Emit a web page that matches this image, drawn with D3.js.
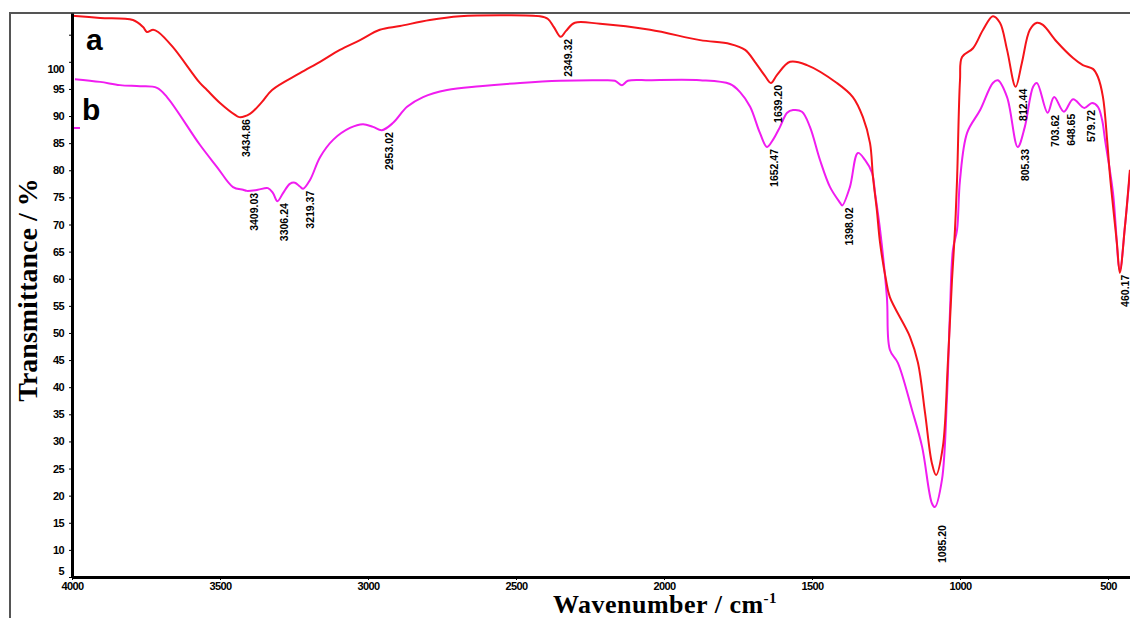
<!DOCTYPE html>
<html>
<head>
<meta charset="utf-8">
<script src="https://cdn.jsdelivr.net/npm/d3@7"></script>
<style>
    body {margin: 0; background: #fff}
    svg {display: block}
    .axis text {font: bold 11px "Liberation Sans", Arial, sans-serif; fill: #000}
    .axis path, .axis line {stroke: #000}
    .peak {font: bold 10.5px "Liberation Sans", Arial, sans-serif; fill: #000}
    .title {font-family: "Liberation Serif", "Times New Roman", serif; font-weight: bold; fill: #000}
    .tag {font: bold 30px "Liberation Sans", Arial, sans-serif; fill: #000}
</style>
</head>
<body>
<svg id="chart" width="1130" height="618"></svg>
<script>
// spectrum a (red)
const waveA = [4000, 3905, 3794, 3760, 3747, 3726, 3709, 3659, 3568, 3544,
    3500, 3449, 3435, 3399, 3358, 3324, 3230, 3162, 3095, 3027,
    2960, 2892, 2791, 2689, 2554, 2419, 2392, 2372, 2349, 2331,
    2301, 2216, 2047, 1878, 1777, 1726, 1693, 1659, 1639, 1618,
    1574, 1517, 1416, 1362, 1328, 1304, 1294, 1281, 1270, 1250,
    1237, 1169, 1142, 1118, 1095, 1081, 1058, 1041, 1027, 1017,
    1010, 1000, 993, 956, 922, 889, 865, 841, 812, 791,
    764, 740, 720, 673, 618, 585, 551, 534, 517, 503,
    493, 470, 460, 443, 426]
const transA = [108.5, 108.1, 107.7, 106.4, 105.5, 105.9, 105.5, 102.7, 96.1, 94.8,
    92.4, 90.2, 89.8, 90.4, 92.6, 94.8, 97.9, 100.0, 102.2, 104.0,
    105.9, 106.6, 107.7, 108.4, 108.6, 108.4, 107.9, 106.4, 104.6, 105.7,
    107.2, 107.0, 105.9, 104.0, 103.3, 102.2, 100.0, 97.4, 96.1, 97.6,
    100.0, 99.4, 96.1, 93.5, 89.8, 85.0, 78.8, 72.7, 66.6, 59.8,
    56.6, 49.3, 44.5, 35.2, 26.0, 23.8, 29.0, 44.5, 59.8, 69.0,
    78.2, 96.6, 100.9, 102.5, 105.9, 108.4, 107.2, 102.2, 95.4, 99.8,
    105.9, 107.2, 106.8, 103.7, 100.7, 99.4, 98.7, 97.2, 93.5, 85.6,
    78.8, 66.6, 61.1, 69.5, 80.1]

// spectrum b (magenta)
const waveB = [3990, 3905, 3838, 3770, 3713, 3679, 3568, 3510, 3456, 3422,
    3409, 3372, 3338, 3321, 3306, 3287, 3264, 3247, 3230, 3219,
    3196, 3162, 3118, 3061, 3017, 2983, 2953, 2916, 2868, 2814,
    2733, 2622, 2486, 2351, 2216, 2166, 2142, 2122, 2047, 1878,
    1777, 1743, 1709, 1676, 1652, 1632, 1608, 1584, 1564, 1534,
    1507, 1473, 1439, 1405, 1398, 1372, 1345, 1321, 1297, 1287,
    1270, 1247, 1237, 1210, 1162, 1128, 1095, 1085, 1061, 1044,
    1034, 1024, 1010, 1000, 976, 932, 889, 872, 841, 805,
    781, 753, 740, 704, 682, 649, 618, 580, 554, 534,
    520, 510, 483, 460, 443, 426]
const transB = [96.8, 96.3, 95.7, 95.5, 95.2, 93.5, 84.7, 80.6, 76.9, 76.4,
    76.2, 76.4, 76.7, 75.8, 74.3, 75.8, 77.5, 77.7, 77.0, 76.6,
    78.2, 82.4, 85.6, 87.8, 88.5, 88.0, 87.4, 88.7, 91.7, 93.5,
    94.8, 95.5, 96.1, 96.5, 96.6, 96.5, 95.7, 96.5, 96.6, 96.6,
    95.9, 94.4, 91.7, 86.9, 84.3, 85.6, 88.0, 90.6, 91.1, 90.8,
    88.0, 81.9, 76.9, 74.0, 73.5, 76.9, 83.2, 81.9, 79.5, 75.8,
    69.0, 56.6, 46.9, 44.5, 35.8, 29.0, 18.6, 17.9, 22.9, 38.2,
    53.7, 65.3, 69.0, 78.2, 86.9, 91.1, 96.1, 96.6, 93.5, 84.3,
    88.0, 95.4, 96.1, 90.6, 93.5, 90.8, 93.1, 91.5, 92.4, 91.7,
    89.3, 85.6, 75.8, 61.6, 69.5, 79.5]

// short stray piece of b at the left edge
const waveStub = [4000, 3973]
const transStub = [87.8, 87.8]

// peak annotations
const peakTextA = ['3434.86', '2349.32', '1639.20', '812.44', '460.17']
const peakWaveA = [3434.86, 2349.32, 1639.20, 812.44, 460.17]
const peakTransA = [89.8, 104.6, 96.1, 95.4, 61.1]

const peakTextB = ['3409.03', '3306.24', '3219.37', '2953.02', '1652.47', '1398.02',
    '1085.20', '805.33', '703.62', '648.65', '579.72']
const peakWaveB = [3409.03, 3306.24, 3219.37, 2953.02, 1652.47, 1398.02,
    1085.20, 805.33, 703.62, 648.65, 579.72]
const peakTransB = [76.2, 74.3, 76.6, 87.4, 84.3, 73.5, 17.9, 84.3, 90.6, 90.8, 91.5]

const xTicks = [4000, 3500, 3000, 2500, 2000, 1500, 1000, 500]
const yTicks = d3.range(5, 106, 5)


const svg = d3.select('#chart')

const x = d3.scaleLinear()
    .domain([4000, 420])
    .range([72, 72 + 3580 * 0.296])

const y = d3.scaleLinear()
    .domain([5, 109])
    .range([577, 13])

const zip = (ws, ts) => ws.map((w, i) => ({w, t: ts[i]}))

const line = d3.line()
    .x(d => x(d.w))
    .y(d => y(d.t))
    .curve(d3.curveCatmullRom.alpha(0.5))

// outer frame
svg.append('path')
    .attr('d', 'M10,620V13H1132')
    .attr('fill', 'none')
    .attr('stroke', '#555')
    .attr('stroke-width', 2)

svg.append('clipPath')
    .attr('id', 'clip')
    .append('rect')
    .attr('x', 72).attr('y', 13)
    .attr('width', 1130 - 72).attr('height', 577 - 13)

const plot = svg.append('g')
    .attr('clip-path', 'url(#clip)')

plot.append('path')
    .datum(zip(waveStub, transStub))
    .attr('d', d3.line().x(d => x(d.w)).y(d => y(d.t)))
    .attr('fill', 'none')
    .attr('stroke', '#f01cf0')
    .attr('stroke-width', 2)

plot.append('path')
    .datum(zip(waveB, transB))
    .attr('d', line)
    .attr('fill', 'none')
    .attr('stroke', '#f01cf0')
    .attr('stroke-width', 2)

plot.append('path')
    .datum(zip(waveA, transA))
    .attr('d', line)
    .attr('fill', 'none')
    .attr('stroke', '#f5141a')
    .attr('stroke-width', 2)

// axes
const yAxis = svg.append('g')
    .attr('class', 'axis')
    .attr('transform', 'translate(72,0)')
    .call(d3.axisLeft(y)
        .tickValues(yTicks)
        .tickSize(3)
        .tickSizeOuter(0)
        .tickPadding(5)
        .tickFormat(d => d <= 100 ? d : ''))
yAxis.select('.domain').attr('stroke-width', 3)
// the end labels sit a little off their ticks in the original
const yLabelShift = {5: -6, 100: 7}
yAxis.selectAll('.tick text')
    .attr('letter-spacing', -0.6)
    .attr('y', d => yLabelShift[d] || 0)

const xAxis = svg.append('g')
    .attr('class', 'axis')
    .attr('transform', 'translate(0,577)')
    .call(d3.axisBottom(x)
        .tickValues(xTicks)
        .tickSize(3)
        .tickSizeOuter(0)
        .tickPadding(2)
        .tickFormat(d3.format('d')))
xAxis.select('.domain').attr('stroke-width', 3)
xAxis.selectAll('.tick text').attr('letter-spacing', -0.6)

// peak labels, read upwards
const labelDy = {'1085.20': 16}
const labelDx = {'460.17': -2}
const drawPeaks = (texts, waves, trans) => {
    svg.append('g')
        .selectAll('text')
        .data(texts.map((s, i) => ({s, w: waves[i], t: trans[i]})))
        .join('text')
        .attr('class', 'peak')
        .attr('text-anchor', 'end')
        .attr('transform', d =>
            `translate(${x(d.w) + 11 + (labelDx[d.s] || 0)},${y(d.t) + 2 + (labelDy[d.s] || 0)}) rotate(-90)`)
        .text(d => d.s)
}
drawPeaks(peakTextA, peakWaveA, peakTransA)
drawPeaks(peakTextB, peakWaveB, peakTransB)

// curve tags
svg.append('text').attr('class', 'tag').attr('x', 86).attr('y', 50).text('a')
svg.append('text').attr('class', 'tag').attr('x', 82).attr('y', 120).text('b')

// axis titles
svg.append('text')
    .attr('class', 'title')
    .attr('font-size', 28)
    .attr('text-anchor', 'middle')
    .attr('transform', 'translate(37,290) rotate(-90)')
    .text('Transmittance / %')

const xt = svg.append('text')
    .attr('class', 'title')
    .attr('font-size', 26)
    .attr('letter-spacing', 0.5)
    .attr('text-anchor', 'middle')
    .attr('x', 665)
    .attr('y', 613)
xt.append('tspan').text('Wavenumber / cm')
xt.append('tspan').attr('font-size', 15).attr('dy', -10).text('-1')
</script>
</body>
</html>
